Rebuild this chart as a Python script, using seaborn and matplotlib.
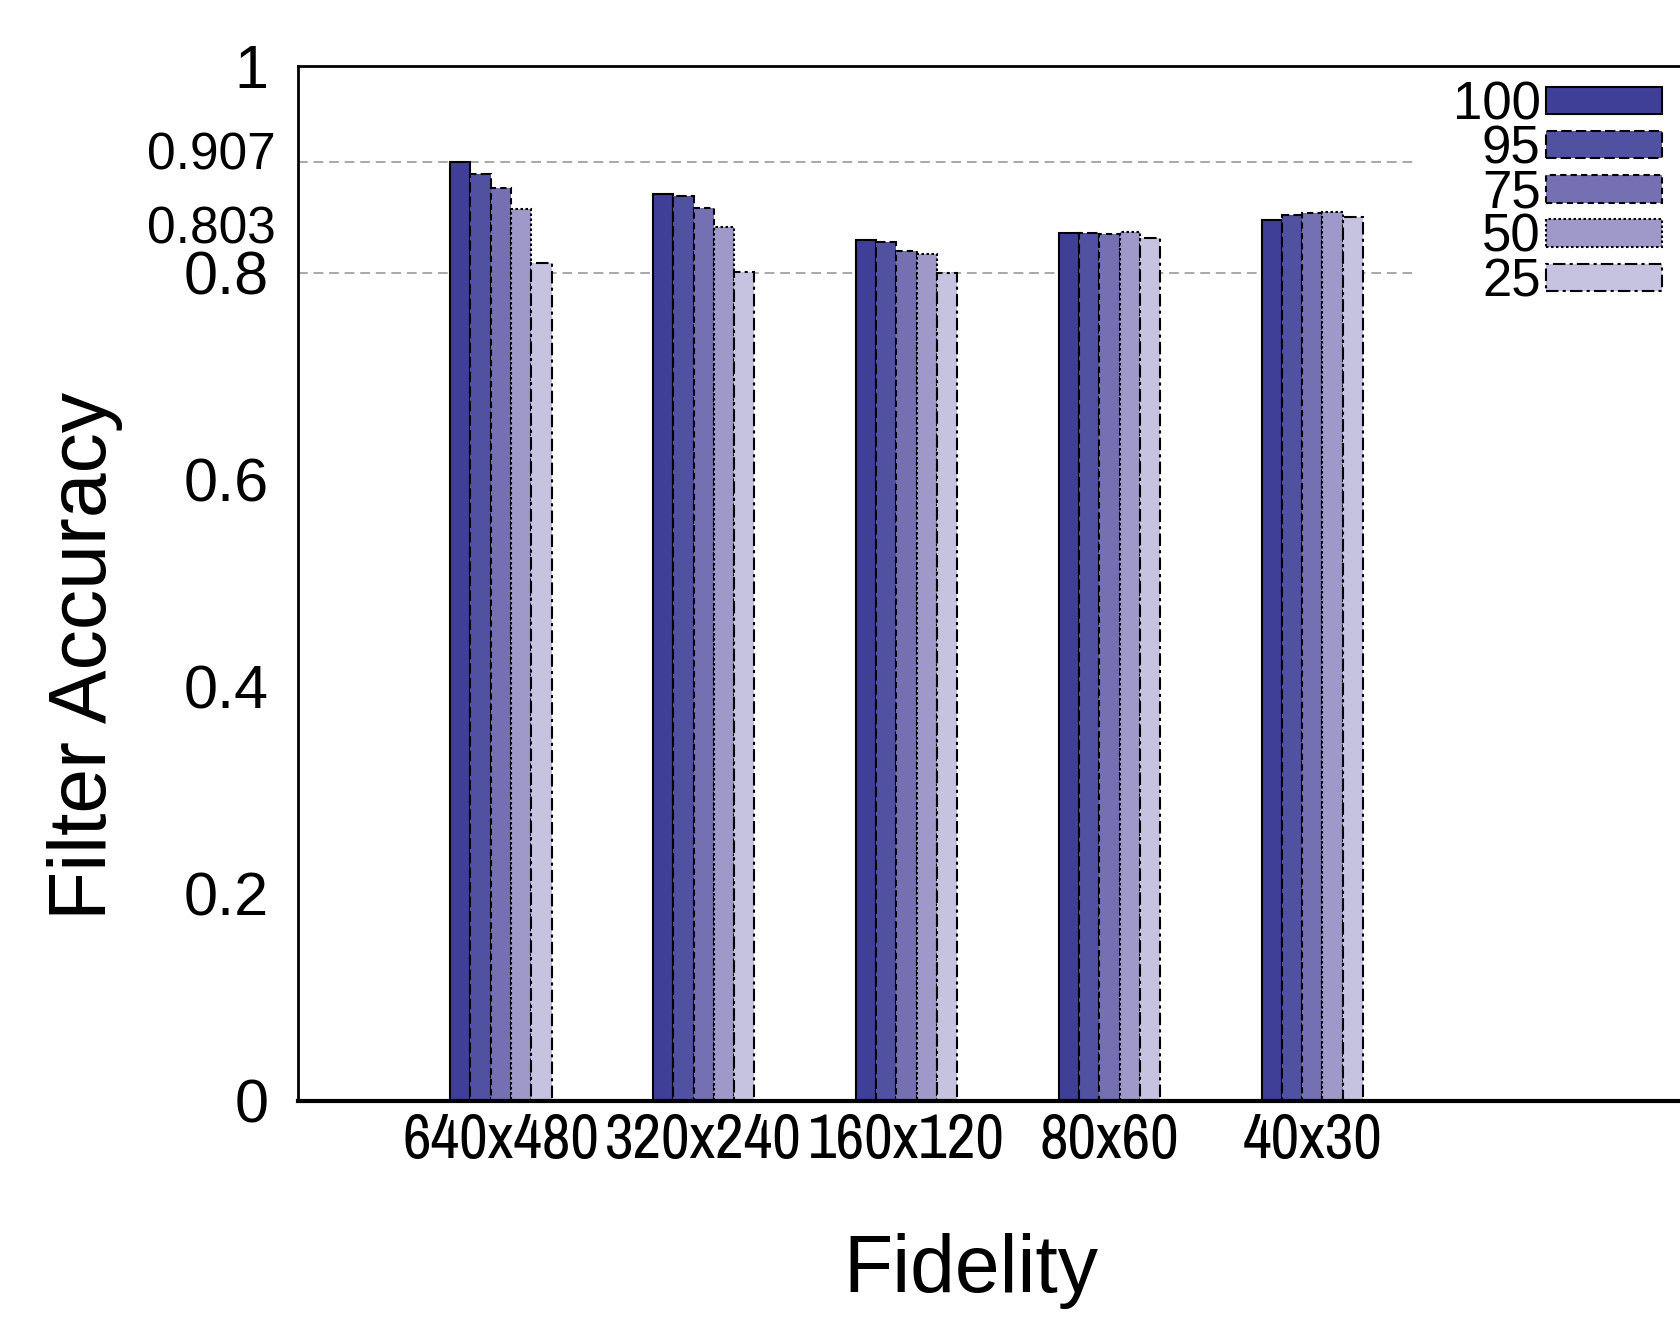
import pandas as pd
import matplotlib
matplotlib.use('Agg')
import matplotlib.pyplot as plt
import matplotlib.transforms as mtransforms
from matplotlib.patches import Patch
from matplotlib import font_manager
import seaborn as sns

# data
fidelities = ['640x480', '320x240', '160x120', '80x60', '40x30']
qualities = ['100', '95', '75', '50', '25']
acc_100 = [0.907, 0.876, 0.832, 0.839, 0.851]
acc_95 = [0.896, 0.874, 0.830, 0.839, 0.856]
acc_75 = [0.882, 0.863, 0.821, 0.838, 0.858]
acc_50 = [0.862, 0.844, 0.818, 0.840, 0.859]
acc_25 = [0.810, 0.801, 0.800, 0.834, 0.854]
ref_lines = [0.907, 0.8]
y_ticks = [0, 0.2, 0.4, 0.6, 0.8, 1.0]
y_ticklabels = ['0', '0.2', '0.4', '0.6', '0.8', '1']

colors = ['#3f3f97', '#5151a2', '#7570b2', '#9e99c9', '#c6c3e1']
edge_styles = ['-', (0, (5, 2)), (0, (3, 2)), (0, (1.2, 1.2)), (0, (6, 2, 1.5, 2))]

sns.set_style('white')
plt.rcParams['font.family'] = ['Liberation Sans', 'DejaVu Sans']
plt.rcParams['text.color'] = 'black'
plt.rcParams['xtick.color'] = 'black'
plt.rcParams['ytick.color'] = 'black'
plt.rcParams['axes.labelcolor'] = 'black'


def find_narrow():
    # look for a condensed sans face for the x tick labels
    fonts = font_manager.fontManager.ttflist
    for f in fonts:
        if f.name == 'Liberation Sans Narrow' and f.weight in (400, 'normal', 'regular') and f.style == 'normal':
            return f.fname
    for f in fonts:
        if 'Narrow' in f.name and f.style == 'normal':
            return f.fname
    for f in fonts:
        if f.stretch in ('condensed', 'semi-condensed', 'extra-condensed') and f.style == 'normal' \
                and f.weight in (400, 'normal', 'regular') and 'Sans' in f.name and 'Mono' not in f.name:
            return f.fname
    return None


narrow_file = find_narrow()

rows = []
for q, vals in zip(qualities, [acc_100, acc_95, acc_75, acc_50, acc_25]):
    for f, v in zip(fidelities, vals):
        rows.append({'fidelity': f, 'quality': q, 'accuracy': v})
df = pd.DataFrame(rows)

fig = plt.figure(figsize=(16.81, 13.17), dpi=100)
ax = fig.add_axes([0.1773, 0.1643, 0.8447, 0.7856])

sns.barplot(data=df, x='fidelity', y='accuracy', hue='quality',
            order=fidelities, hue_order=qualities, palette=colors,
            width=0.5, saturation=1, edgecolor='black', linewidth=1.5,
            legend=False, ax=ax)

for cont, ls in zip(ax.containers, edge_styles):
    for bar in cont:
        bar.set_linestyle(ls)

for y in ref_lines:
    ax.hlines(y, -1, 4.5, colors='#a8a8a8', linestyles=(0, (5, 3)), linewidth=1.4, zorder=0)

ax.set_xlim(-1, 6)
ax.set_ylim(0, 1)
ax.set_yticks(y_ticks)
ax.set_yticklabels(y_ticklabels, fontsize=44)
ax.tick_params(axis='y', length=0, pad=21)
ax.tick_params(axis='x', length=0, pad=8)
for lab in ax.get_xticklabels():
    if narrow_file:
        lab.set_fontproperties(font_manager.FontProperties(fname=narrow_file, size=45))
    else:
        lab.set_fontsize(36)

trans = mtransforms.blended_transform_factory(ax.transAxes, ax.transData)
ax.text(-0.016, 0.913, '0.907', transform=trans, ha='right', va='center', fontsize=37)
ax.text(-0.016, 0.841, '0.803', transform=trans, ha='right', va='center', fontsize=37)

ax.set_xlabel('Fidelity', fontsize=58)
ax.set_ylabel('Filter Accuracy', fontsize=58)
ax.xaxis.set_label_coords(0.474, -0.128)
ax.yaxis.set_label_coords(-0.123, 0.43)

for side in ['left', 'top', 'bottom']:
    ax.spines[side].set_color('black')
ax.spines['left'].set_linewidth(2)
ax.spines['top'].set_linewidth(2)
ax.spines['bottom'].set_linewidth(3)
ax.spines['right'].set_visible(False)

handles = [Patch(facecolor=c, edgecolor='black', linewidth=1.5, linestyle=ls, label=q)
           for c, ls, q in zip(colors, edge_styles, qualities)]
ax.legend(handles=handles, loc='upper right', bbox_to_anchor=(0.9887, 0.939),
          bbox_transform=fig.transFigure, frameon=False, markerfirst=False,
          fontsize=38, handlelength=2.2, handleheight=0.42, handletextpad=0.1,
          labelspacing=-0.11, borderpad=0, borderaxespad=0)

fig.savefig('out.png', dpi=100)
